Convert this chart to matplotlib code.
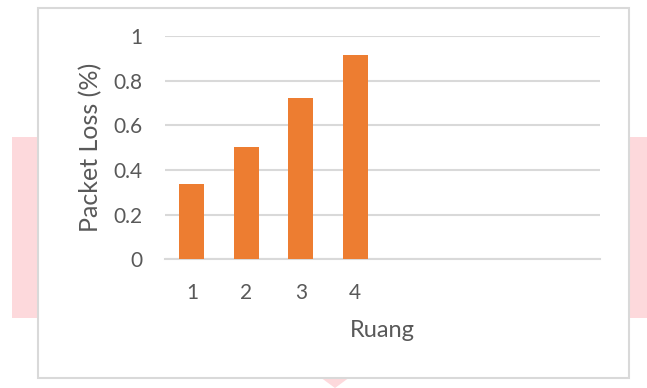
import matplotlib.pyplot as plt
from matplotlib.patches import Rectangle, Polygon

# data
ruang = ['1', '2', '3', '4', '', '', '', '']
packet_loss = [0.337, 0.503, 0.721, 0.915, 0, 0, 0, 0]
y_ticks = [0, 0.2, 0.4, 0.6, 0.8, 1]
y_tick_labels = ['0', '0.2', '0.4', '0.6', '0.8', '1']

bar_color = '#ed7d31'
grid_color = '#d9d9d9'
text_color = '#595959'
pink = '#fdd9dc'

plt.rcParams['font.family'] = ['Lato', 'DejaVu Sans']

fig = plt.figure(figsize=(6.47, 3.88), dpi=100)
W, H = 647, 388

# pink background bits behind the chart box
def px_rect(x0, y0, x1, y1, **kw):
    return Rectangle((x0 / W, 1 - y1 / H), (x1 - x0) / W, (y1 - y0) / H,
                     transform=fig.transFigure, **kw)

fig.patches.append(px_rect(12, 137, 38, 318, facecolor=pink, edgecolor='none', zorder=0))
fig.patches.append(px_rect(628, 137, 647, 318, facecolor=pink, edgecolor='none', zorder=0))
fig.patches.append(Polygon([(320 / W, 1 - 377 / H), (350 / W, 1 - 377 / H), (335 / W, 0)],
                           closed=True, transform=fig.transFigure,
                           facecolor=pink, edgecolor='none', zorder=0))
# chart box
fig.patches.append(px_rect(37.5, 7.5, 628.5, 377.5, facecolor='white',
                           edgecolor=grid_color, linewidth=1.5, zorder=1))

ax = fig.add_axes([164.7 / W, 1 - 259.3 / H, (600 - 164.7) / W, (259.3 - 36) / H])
ax.set_zorder(2)
ax.patch.set_alpha(0)

x = range(len(ruang))
ax.bar(x, packet_loss, width=0.46, color=bar_color, zorder=3)

ax.set_xlim(-0.5, len(ruang) - 0.5)
ax.set_ylim(0, 1)
ax.set_yticks(y_ticks)
ax.set_yticklabels(y_tick_labels)
ax.set_xticks(list(x))
ax.set_xticklabels(ruang)

ax.grid(axis='y', color=grid_color, linewidth=1.5, zorder=0)
for side in ['top', 'right', 'left']:
    ax.spines[side].set_visible(False)
ax.spines['bottom'].set_color(grid_color)
ax.spines['bottom'].set_linewidth(1.5)
ax.spines['bottom'].set_zorder(1)

ax.tick_params(axis='both', length=0, labelsize=15, colors=text_color)
ax.tick_params(axis='y', pad=16)
ax.tick_params(axis='x', pad=17)

ax.set_ylabel('Packet Loss (%)', fontsize=18, color=text_color, labelpad=8)
ax.set_xlabel('Ruang', fontsize=17, color=text_color, labelpad=12)

fig.savefig('out.png', dpi=100)
